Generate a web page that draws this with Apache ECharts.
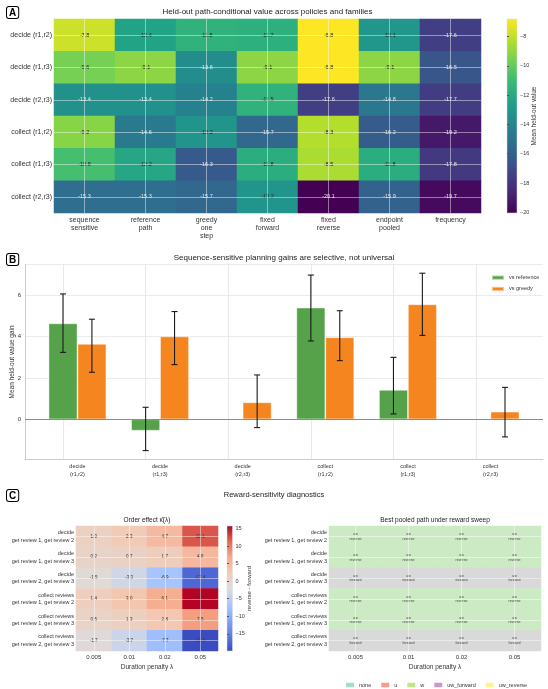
<!DOCTYPE html>
<html>
<head>
<meta charset="utf-8">
<script src="https://cdn.jsdelivr.net/npm/echarts@6/dist/echarts.min.js"></script>
<style>
  html, body { margin: 0; background: #fff; }
  #chart { width: 548px; height: 689px; }
</style>
</head>
<body>
<div id="chart"></div>
<script>
// ---- panel A: held-out value per family x policy
const policies = ['sequence\nsensitive', 'reference\npath', 'greedy\none\nstep', 'fixed\nforward', 'fixed\nreverse', 'endpoint\npooled', 'frequency'];
const familiesA = ['decide (r1,r2)', 'decide (r1,r3)', 'decide (r2,r3)', 'collect (r1,r2)', 'collect (r1,r3)', 'collect (r2,r3)'];
const heldOut = [
  [-7.8, -12.4, -11.5, -11.7, -6.8, -13.1, -17.6],
  [-9.6, -9.1, -13.6, -9.1, -6.8, -9.1, -16.5],
  [-13.4, -13.4, -14.2, -11.5, -17.6, -14.8, -17.7],
  [-9.2, -14.6, -13.2, -15.7, -8.3, -16.2, -19.2],
  [-10.8, -12.2, -16.3, -11.8, -8.5, -11.8, -17.8],
  [-15.3, -15.3, -15.7, -13.2, -20.1, -15.9, -19.7]
];
const heldOutTicks = [-20, -18, -16, -14, -12, -10, -8];

// ---- panel B: gains (null = not shown)
const familiesB = ['decide\n(r1,r2)', 'decide\n(r1,r3)', 'decide\n(r2,r3)', 'collect\n(r1,r2)', 'collect\n(r1,r3)', 'collect\n(r2,r3)'];
const gainVsReference   = [4.63, -0.55, null, 5.39, 1.42, null];
const gainVsReferenceLo = [3.23, -1.51, null, 3.78, 0.26, null];
const gainVsReferenceHi = [6.05, 0.58, null, 6.96, 2.99, null];
const gainVsGreedy   = [3.64, 4.0, 0.82, 3.96, 5.55, 0.37];
const gainVsGreedyLo = [2.27, 2.64, -0.4, 2.83, 4.05, -0.85];
const gainVsGreedyHi = [4.83, 5.2, 2.14, 5.24, 7.05, 1.54];
const gainTicks = [0, 2, 4, 6];

// ---- panel C: reward sweep
const lambdas = ['0.005', '0.01', '0.02', '0.05'];
const sweepRows = [
  'decide\nget review 1, get review 2',
  'decide\nget review 1, get review 3',
  'decide\nget review 2, get review 3',
  'collect reviews\nget review 1, get review 2',
  'collect reviews\nget review 1, get review 3',
  'collect reviews\nget review 2, get review 3'
];
const orderEffect = [
  [1.0, 2.3, 4.7, 12.1],
  [0.2, 0.7, 1.7, 4.8],
  [-1.5, -3.3, -6.9, -17.4],
  [1.4, 3.0, 6.1, 15.7],
  [0.5, 1.3, 2.8, 7.5],
  [-1.7, -3.7, -7.7, -19.9]
];
const orderTicks = [-15, -10, -5, 0, 5, 10, 15];
const pathNames = ['none', 'u', 'w', 'uw_forward', 'uw_reverse'];
const bestPath = [
  ['uw_reverse', 'uw_reverse', 'uw_reverse', 'uw_reverse'],
  ['uw_reverse', 'uw_reverse', 'uw_reverse', 'uw_reverse'],
  ['uw_forward', 'uw_forward', 'uw_forward', 'uw_forward'],
  ['uw_reverse', 'uw_reverse', 'uw_reverse', 'uw_reverse'],
  ['uw_reverse', 'uw_reverse', 'uw_reverse', 'uw_reverse'],
  ['uw_forward', 'uw_forward', 'uw_forward', 'uw_forward']
];

// colours
const viridis = ['#440154', '#482878', '#3e4989', '#31688e', '#26828e', '#1f9e89', '#35b779', '#6ece58', '#b5de2b', '#fde725'];
const coolwarm = ['#3b4cc0', '#5d7ce6', '#82a6fb', '#aac7fd', '#dddcdc', '#f2cbb7', '#f7a889', '#e26952', '#b40426'];
const legendColors = ['#8dd3c7', '#fb8072', '#b3de69', '#bc80bd', '#ffed6f'];
const cellColors = ['#8dd3c7', '#fb8072', '#b3de69', '#d9d9d9', '#ccebc5'];
const GREEN = '#55a24a', ORANGE = '#f5861f';
const FONT = 'Liberation Sans';

// layout (px)
const gA = { left: 54, top: 19, width: 427, height: 194 };
const cbA = { left: 507, top: 19, width: 10, height: 194 };
const gB = { left: 25, top: 264.3, width: 518, height: 195.2 };
const gC1 = { left: 76, top: 526, width: 142, height: 125 };
const cbC = { left: 227, top: 526, width: 5.5, height: 125 };
const gC2 = { left: 329, top: 526, width: 212, height: 125 };

const xMinB = -0.635, xMaxB = 5.635, yMinB = -1.94, yMaxB = 7.48, barFrac = 0.35;
const barPx = barFrac * gB.width / (xMaxB - xMinB);

const myChart = echarts.init(document.getElementById('chart'), null, { renderer: 'canvas' });

const heatA = [];
heldOut.forEach((row, r) => row.forEach((v, c) => {
  heatA.push({ value: [c, r, v], label: { color: v < -13.3 ? '#e6e6e6' : '#222' } });
}));
const heatC1 = [];
orderEffect.forEach((row, r) => row.forEach((v, c) => heatC1.push([c, r, v])));
const heatC2 = [];
bestPath.forEach((row, r) => row.forEach((p, c) => heatC2.push([c, r, pathNames.indexOf(p)])));

const refBars = [], greedyBars = [], errData = [];
gainVsReference.forEach((v, i) => {
  if (v !== null) {
    refBars.push([i, v]);
    errData.push([i - barFrac / 2, gainVsReferenceLo[i], gainVsReferenceHi[i]]);
  }
});
gainVsGreedy.forEach((v, i) => {
  greedyBars.push([i, v]);
  errData.push([i + barFrac / 2, gainVsGreedyLo[i], gainVsGreedyHi[i]]);
});

// center gridlines over heatmap cells
const centerLines = (nx, ny, color) => ({
  silent: true,
  symbol: ['none', 'none'],
  label: { show: false },
  emphasis: { disabled: true },
  lineStyle: { color: color, type: 'solid', width: 1 },
  data: [...Array(nx).keys()].map(i => ({ xAxis: i })).concat([...Array(ny).keys()].map(j => ({ yAxis: j })))
});

const rowLabel = { fontSize: 5.5, color: '#333', lineHeight: 7.5, margin: 2 };
const lamAxis = (gi) => ({
  type: 'category', gridIndex: gi, data: lambdas,
  axisTick: { show: false }, axisLine: { show: false }, splitLine: { show: false },
  axisLabel: { fontSize: 6, color: '#333', margin: 3 },
  name: 'Duration penalty λ', nameLocation: 'middle', nameGap: 13,
  nameTextStyle: { fontSize: 6.5, color: '#333' }
});
const fmtMinus = v => (v < 0 ? '\u2212' + Math.abs(v) : String(v));
const WHITE_GRID = 'rgba(255,255,255,0.45)';

const option = {
  backgroundColor: '#fff',
  animation: false,
  textStyle: { fontFamily: FONT },
  grid: [gA, cbA, gB, gC1, cbC, gC2].map(g => Object.assign({ outerBoundsMode: 'none', containLabel: false }, g)),
  xAxis: [
    {
      type: 'category', gridIndex: 0, data: policies,
      axisTick: { show: false }, axisLine: { show: false }, splitLine: { show: false },
      axisLabel: { fontSize: 7, color: '#333', lineHeight: 8.2, margin: 3, interval: 0 }
    },
    { type: 'value', gridIndex: 1, show: false, min: 0, max: 1 },
    {
      type: 'value', gridIndex: 2, min: xMinB, max: xMaxB,
      axisLine: { show: true, onZero: false, lineStyle: { color: '#cccccc' } },
      axisTick: { show: false },
      axisLabel: { customValues: familiesB.map((_, i) => i), formatter: v => familiesB[v], fontSize: 5.5, color: '#333', lineHeight: 8, margin: 3 },
      splitLine: { show: false }
    },
    lamAxis(3),
    { type: 'value', gridIndex: 4, show: false, min: 0, max: 1 },
    lamAxis(5)
  ],
  yAxis: [
    {
      type: 'category', gridIndex: 0, data: familiesA, inverse: true,
      axisTick: { show: false }, axisLine: { show: false }, splitLine: { show: false },
      axisLabel: { fontSize: 7, color: '#333', margin: 2 }
    },
    {
      type: 'value', gridIndex: 1, position: 'right', min: -20.05, max: -6.8,
      axisLine: { show: false }, splitLine: { show: false },
      axisTick: { show: true, customValues: heldOutTicks, length: 2, lineStyle: { color: '#555' } },
      axisLabel: { customValues: heldOutTicks, formatter: fmtMinus, fontSize: 5.5, color: '#333', margin: 3 },
      name: 'Mean held-out value', nameLocation: 'middle', nameRotate: 90, nameGap: 14, nameMoveOverlap: false,
      nameTextStyle: { fontSize: 6.5, color: '#333' }
    },
    {
      type: 'value', gridIndex: 2, min: yMinB, max: yMaxB,
      axisLine: { show: true, onZero: false, lineStyle: { color: '#cccccc' } },
      axisTick: { show: false },
      axisLabel: { customValues: gainTicks, fontSize: 6, color: '#333', margin: 4 },
      splitLine: { show: true, lineStyle: { color: '#e6e6e6', width: 0.8 } },
      name: 'Mean held-out value gain', nameLocation: 'middle', nameRotate: 90, nameGap: 9.5, nameMoveOverlap: false,
      nameTextStyle: { fontSize: 6.5, color: '#333' }
    },
    {
      type: 'category', gridIndex: 3, data: sweepRows, inverse: true,
      axisTick: { show: false }, axisLine: { show: false }, splitLine: { show: false },
      axisLabel: rowLabel
    },
    {
      type: 'value', gridIndex: 4, position: 'right', min: -19.9, max: 15.7,
      axisLine: { show: false }, splitLine: { show: false },
      axisTick: { show: true, customValues: orderTicks, length: 2, lineStyle: { color: '#555' } },
      axisLabel: { customValues: orderTicks, formatter: fmtMinus, fontSize: 5.5, color: '#333', margin: 3 },
      name: 'reverse - forward', nameLocation: 'middle', nameRotate: 90, nameGap: 14, nameMoveOverlap: false,
      nameTextStyle: { fontSize: 6, color: '#333' }
    },
    {
      type: 'category', gridIndex: 5, data: sweepRows, inverse: true,
      axisTick: { show: false }, axisLine: { show: false }, splitLine: { show: false },
      axisLabel: rowLabel
    }
  ],
  visualMap: [
    { type: 'continuous', show: false, seriesIndex: 0, dimension: 2, min: -20.05, max: -6.8, inRange: { color: viridis } },
    { type: 'continuous', show: false, seriesIndex: 5, dimension: 2, min: -19.9, max: 15.7, inRange: { color: coolwarm } },
    { type: 'piecewise', show: false, seriesIndex: 7, dimension: 2, pieces: pathNames.map((n, i) => ({ value: i, color: cellColors[i] })) }
  ],
  legend: [
    {
      data: ['vs reference', 'vs greedy'], orient: 'vertical', left: 486, top: 269.5,
      icon: 'rect', itemWidth: 12, itemHeight: 4.3, itemGap: 5, selectedMode: false,
      textStyle: { fontSize: 5.5, color: '#333' }
    },
    {
      data: pathNames, orient: 'horizontal', left: 341, top: 677,
      icon: 'rect', itemWidth: 8, itemHeight: 4.5, itemGap: 10, selectedMode: false,
      textStyle: { fontSize: 5.5, color: '#333' }
    }
  ],
  series: [
    {
      type: 'heatmap', xAxisIndex: 0, yAxisIndex: 0, data: heatA,
      label: { show: true, fontSize: 5.5, formatter: p => p.value[2].toFixed(1) },
      emphasis: { disabled: true }
    },
    { type: 'line', xAxisIndex: 0, yAxisIndex: 0, data: [], markLine: centerLines(policies.length, familiesA.length, WHITE_GRID) },
    {
      name: 'vs reference', type: 'bar', xAxisIndex: 2, yAxisIndex: 2, data: refBars,
      barWidth: barPx, barGap: '0%', z: 3,
      itemStyle: { color: GREEN, borderColor: 'rgba(255,255,255,0.55)', borderWidth: 0.8 },
      // vertical category gridlines
      markLine: {
        silent: true, z: 1, symbol: ['none', 'none'], label: { show: false },
        lineStyle: { color: '#e3e3e3', width: 0.8, type: 'solid' },
        data: familiesB.map((_, i) => [{ coord: [i, yMinB] }, { coord: [i, yMaxB] }])
      }
    },
    {
      name: 'vs greedy', type: 'bar', xAxisIndex: 2, yAxisIndex: 2, data: greedyBars,
      barWidth: barPx, barGap: '0%', z: 3,
      itemStyle: { color: ORANGE, borderColor: 'rgba(255,255,255,0.55)', borderWidth: 0.8 },
      markLine: {
        silent: true, symbol: ['none', 'none'], label: { show: false },
        lineStyle: { color: '#8c8c8c', width: 1.1, type: 'solid' },
        data: [{ yAxis: 0 }]
      }
    },
    {
      type: 'custom', xAxisIndex: 2, yAxisIndex: 2, data: errData, encode: { x: 0, y: [1, 2] },
      z: 6,
      renderItem: (params, api) => {
        const x = api.value(0);
        const top = api.coord([x, api.value(2)]);
        const bot = api.coord([x, api.value(1)]);
        const cap = 3;
        const st = { stroke: '#1a1a1a', lineWidth: 1.1 };
        return {
          type: 'group', children: [
            { type: 'line', shape: { x1: top[0], y1: top[1], x2: bot[0], y2: bot[1] }, style: st },
            { type: 'line', shape: { x1: top[0] - cap, y1: top[1], x2: top[0] + cap, y2: top[1] }, style: st },
            { type: 'line', shape: { x1: bot[0] - cap, y1: bot[1], x2: bot[0] + cap, y2: bot[1] }, style: st }
          ]
        };
      }
    },
    {
      type: 'heatmap', xAxisIndex: 3, yAxisIndex: 3, data: heatC1,
      label: { show: true, fontSize: 4.5, color: '#333', formatter: p => p.value[2].toFixed(1) },
      emphasis: { disabled: true }
    },
    { type: 'line', xAxisIndex: 3, yAxisIndex: 3, data: [], markLine: centerLines(lambdas.length, sweepRows.length, WHITE_GRID) },
    {
      type: 'heatmap', xAxisIndex: 5, yAxisIndex: 5, data: heatC2,
      label: { show: true, fontSize: 3.6, lineHeight: 4.5, color: '#444', formatter: p => pathNames[p.value[2]].replace('_', '\n') },
      emphasis: { disabled: true }
    },
    { type: 'line', xAxisIndex: 5, yAxisIndex: 5, data: [], markLine: centerLines(lambdas.length, sweepRows.length, WHITE_GRID) }
  ].concat(pathNames.map((n, i) => ({
    name: n, type: 'scatter', xAxisIndex: 5, yAxisIndex: 5, data: [], itemStyle: { color: legendColors[i] }
  }))),
  graphic: [
    // panel letters
    ...[['A', 7, 7], ['B', 7, 254], ['C', 7, 490]].map(([t, x, y]) => ({
      type: 'text', x: x, y: y,
      style: {
        text: t, font: 'bold 10px ' + FONT, fill: '#000',
        borderColor: '#000', borderWidth: 1, borderRadius: 2, padding: [1, 2, 0, 2], backgroundColor: '#fff'
      }
    })),
    // titles
    ...[
      ['Held-out path-conditional value across policies and families', gA.left + gA.width / 2, 12, 8],
      ['Sequence-sensitive planning gains are selective, not universal', gB.left + gB.width / 2, 257.5, 8],
      ['Reward-sensitivity diagnostics', 274, 495, 7.5],
      ['Order effect \u03BA\u0302(\u03BB)', gC1.left + gC1.width / 2, 520, 6.5],
      ['Best pooled path under reward sweep', gC2.left + gC2.width / 2, 520, 6.5]
    ].map(([t, x, y, fs]) => ({
      type: 'text', x: x, y: y,
      style: { text: t, font: fs + 'px ' + FONT, fill: '#222', textAlign: 'center', textVerticalAlign: 'middle' }
    })),
    // colourbars
    {
      type: 'rect', shape: { x: cbA.left, y: cbA.top, width: cbA.width, height: cbA.height },
      style: {
        fill: new echarts.graphic.LinearGradient(0, 1, 0, 0, viridis.map((c, i) => ({ offset: i / (viridis.length - 1), color: c }))),
        stroke: '#ddd', lineWidth: 0.5
      }
    },
    {
      type: 'rect', shape: { x: cbC.left, y: cbC.top, width: cbC.width, height: cbC.height },
      style: {
        fill: new echarts.graphic.LinearGradient(0, 1, 0, 0, coolwarm.map((c, i) => ({ offset: i / (coolwarm.length - 1), color: c }))),
        stroke: '#ddd', lineWidth: 0.5
      }
    }
  ]
};

myChart.setOption(option);
</script>
</body>
</html>
